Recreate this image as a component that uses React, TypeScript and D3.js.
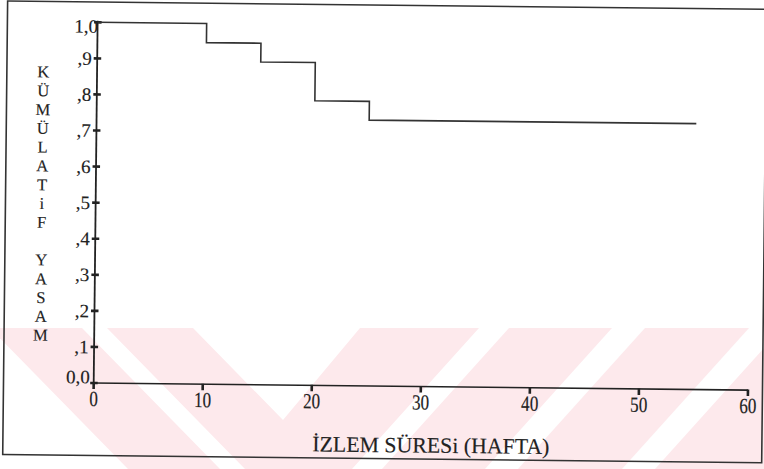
import React from "react";
import * as d3 from "d3";

// ---- data ----
const eventTimes = [0, 10, 15, 20, 25, 55];
const survival = [1, 0.947, 0.895, 0.789, 0.737, 0.737];
const xTicks = [0, 10, 20, 30, 40, 50, 60];
const yTicks = [0, 0.1, 0.2, 0.3, 0.4, 0.5, 0.6, 0.7, 0.8, 0.9, 1.0];
const yTickLabels = ["0,0", ",1", ",2", ",3", ",4", ",5", ",6", ",7", ",8", ",9", "1,0"];
const yTitle = "KÜMÜLATiF YASAM";
const xTitle = "İZLEM SÜRESi (HAFTA)";

// background scan watermark bands (decoration)
const watermarkBands: [number, number][][] = [
  [[-10, 328], [82, 328], [220, 469], [128, 469]],
  [[107, 328], [193, 328], [283, 420], [360, 328], [479, 328], [352, 469], [245, 469]],
  [[509, 328], [612, 328], [485, 469], [382, 469]],
  [[645, 328], [749, 328], [622, 469], [518, 469]],
  [[782, 328], [900, 328], [773, 469], [655, 469]],
];

const W = 764;
const H = 469;
const FONT = "'Liberation Serif', 'Times New Roman', serif";
const INK = "#222";

export default function App() {
  const x = d3.scaleLinear().domain([0, 60]).range([93.7, 748]);
  const y = d3.scaleLinear().domain([0, 1]).range([383, 22.3]);
  const pts: [number, number][] = eventTimes.map((t, i) => [t, survival[i]]);
  const line = d3
    .line<[number, number]>()
    .x((d) => x(d[0]))
    .y((d) => y(d[1]))
    .curve(d3.curveStepAfter);
  const x0 = x(0);
  const y0 = y(0);

  const labelBaseline = (v: number) => {
    if (v === 1) return y(v) + 10.5;
    if (v === 0) return y(v) + 0.5;
    return y(v) + 6.5;
  };
  const labelRight = (v: number) => {
    if (v === 1) return x0 + 0.5;
    if (v === 0) return x0 - 4;
    return x0 - 5.5;
  };
  const textInk = { fill: INK, stroke: INK, strokeWidth: 0.15 };

  return (
    <svg
      width={W}
      height={H}
      viewBox={`0 0 ${W} ${H}`}
      style={{ position: "absolute", left: 0, top: 0, background: "#fff" }}
    >
      <rect x={0} y={0} width={W} height={H} fill="#fff" />
      {watermarkBands.map((poly, i) => (
        <polygon key={i} points={poly.map((p) => p.join(",")).join(" ")} fill="#fde9ec" />
      ))}
      <g transform={`rotate(0.62, ${x0}, ${y0})`}>
        {/* frame */}
        <rect x={3.5} y={2} width={759} height={453.5} fill="none" stroke="#333" strokeWidth={1.6} />
        {/* y axis */}
        <line x1={x0} x2={x0} y1={y(0)} y2={y(1) - 1.5} stroke={INK} strokeWidth={1.8} />
        {yTicks.map((v) => (
          <line key={v} x1={x0 - 3.5} x2={x0 + 4} y1={y(v)} y2={y(v)} stroke={INK} strokeWidth={2.6} />
        ))}
        {yTicks.map((v, i) => (
          <text
            key={v}
            x={labelRight(v)}
            y={labelBaseline(v)}
            textAnchor="end"
            fontFamily={FONT}
            fontSize={19}
            {...textInk}
          >
            {yTickLabels[i]}
          </text>
        ))}
        {/* x axis */}
        <line x1={x0} x2={x(60)} y1={y0} y2={y0} stroke={INK} strokeWidth={1.6} />
        {xTicks.map((t) => (
          <line key={t} x1={x(t)} x2={x(t)} y1={y0 - 0.5} y2={y0 + 6} stroke={INK} strokeWidth={2.6} />
        ))}
        {xTicks.map((t) => (
          <text
            key={t}
            transform={`translate(${x(t)}, ${y0 + 23}) scale(0.95, 1.2)`}
            textAnchor="middle"
            fontFamily={FONT}
            fontSize={18}
            {...textInk}
          >
            {t}
          </text>
        ))}
        {/* survival curve */}
        <path d={line(pts) || ""} fill="none" stroke="#333" strokeWidth={1.6} />
        {/* y title, stacked letters */}
        {Array.from(yTitle).map((ch, i) =>
          ch === " " ? null : (
            <text
              key={i}
              x={40}
              y={78 + 18.8 * i}
              textAnchor="middle"
              fontFamily={FONT}
              fontSize={16.5}
              {...textInk}
            >
              {ch}
            </text>
          )
        )}
        {/* x title */}
        <text
          x={313}
          y={449}
          fontFamily={FONT}
          fontSize={22}
          textLength={237}
          lengthAdjust="spacingAndGlyphs"
          {...textInk}
        >
          {xTitle}
        </text>
      </g>
    </svg>
  );
}
